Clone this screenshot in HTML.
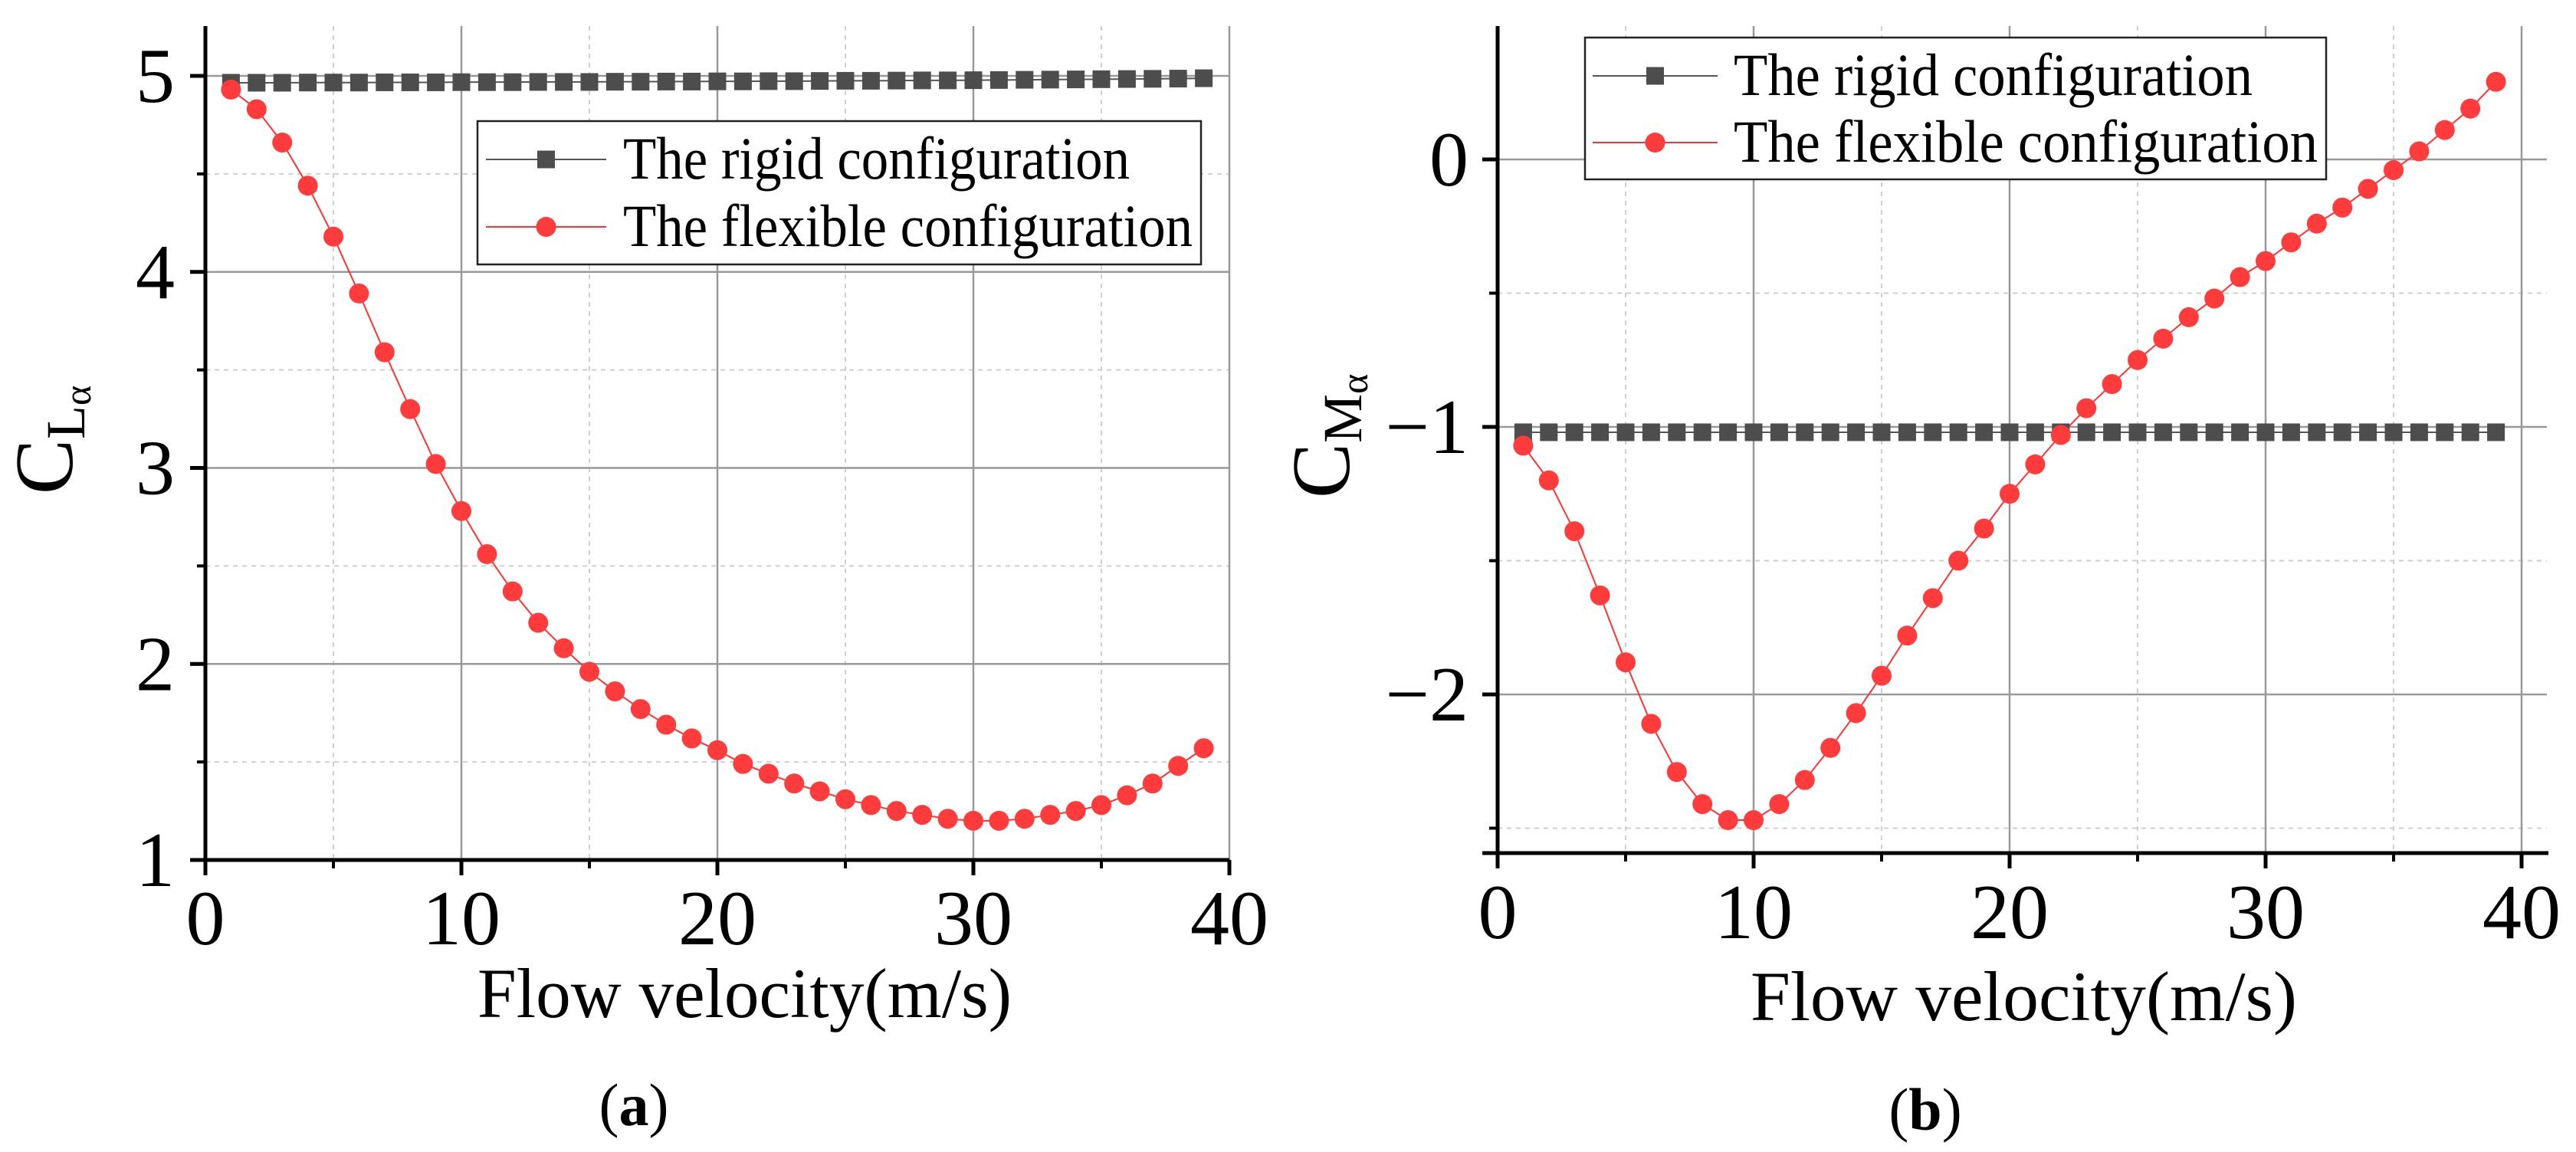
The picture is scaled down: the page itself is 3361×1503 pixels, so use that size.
<!DOCTYPE html>
<html><head><meta charset="utf-8"><style>
html,body{margin:0;padding:0;background:#fff}
svg{display:block}
text{font-family:"Liberation Serif","Times New Roman",serif;fill:#000}
</style></head><body>
<svg id="fig" width="3361" height="1503" viewBox="0 0 3361 1503" xmlns="http://www.w3.org/2000/svg"></svg>
<script>
const velocities = [1,2,3,4,5,6,7,8,9,10,11,12,13,14,15,16,17,18,19,20,21,22,23,24,25,26,27,28,29,30,31,32,33,34,35,36,37,38,39];
const clRigid = [4.965,4.965,4.965,4.966,4.966,4.966,4.967,4.967,4.967,4.968,4.968,4.968,4.969,4.969,4.969,4.970,4.970,4.971,4.971,4.972,4.972,4.973,4.973,4.974,4.975,4.975,4.976,4.977,4.977,4.978,4.979,4.980,4.981,4.982,4.983,4.984,4.985,4.986,4.988];
const clFlexible = [4.93,4.83,4.66,4.44,4.18,3.89,3.59,3.30,3.02,2.78,2.56,2.37,2.21,2.08,1.96,1.86,1.77,1.69,1.62,1.56,1.49,1.44,1.39,1.35,1.31,1.28,1.25,1.23,1.21,1.20,1.20,1.21,1.23,1.25,1.28,1.33,1.39,1.48,1.57];
const cmRigid = [-1.02,-1.02,-1.02,-1.02,-1.02,-1.02,-1.02,-1.02,-1.02,-1.02,-1.02,-1.02,-1.02,-1.02,-1.02,-1.02,-1.02,-1.02,-1.02,-1.02,-1.02,-1.02,-1.02,-1.02,-1.02,-1.02,-1.02,-1.02,-1.02,-1.02,-1.02,-1.02,-1.02,-1.02,-1.02,-1.02,-1.02,-1.02,-1.02];
const cmFlexible = [-1.07,-1.20,-1.39,-1.63,-1.88,-2.11,-2.29,-2.41,-2.47,-2.47,-2.41,-2.32,-2.20,-2.07,-1.93,-1.78,-1.64,-1.50,-1.38,-1.25,-1.14,-1.03,-0.93,-0.84,-0.75,-0.67,-0.59,-0.52,-0.44,-0.38,-0.31,-0.24,-0.18,-0.11,-0.04,0.03,0.11,0.19,0.29];
const xTicks = [0,10,20,30,40];
const xMinor = [5,15,25,35];
const clTicks = [1,2,3,4,5];
const clMinor = [1.5,2.5,3.5,4.5];
const cmTicks = [-2,-1,0];
const cmMinor = [-2.5,-1.5,-0.5];
const legendLabels = ["The rigid configuration","The flexible configuration"];

const NS="http://www.w3.org/2000/svg";
const svg=document.getElementById('fig');
function mk(tag,attrs,parent){const e=document.createElementNS(NS,tag);for(const k in attrs)e.setAttribute(k,attrs[k]);(parent||svg).appendChild(e);return e;}

function panel(P){
  const g=mk('g',{});
  
  
  const X=v=>P.x0+(v-0)*P.xs, Y=v=>P.y0v-(v-P.yref)*P.ys;
  P.yMinor.forEach(v=>{const l=mk('line',{x1:P.left,x2:P.gridRight,y1:Y(v),y2:Y(v),stroke:'#cfcfcf','stroke-width':2,'stroke-dasharray':'6 6'},g);
    });
  xMinor.forEach(v=>{const l=mk('line',{x1:X(v),x2:X(v),y1:P.top,y2:P.bottom,stroke:'#cfcfcf','stroke-width':2,'stroke-dasharray':'6 6'},g);
    });
  P.yTicks.forEach(v=>{const l=mk('line',{x1:P.left,x2:P.gridRight,y1:Y(v),y2:Y(v),stroke:'#999','stroke-width':2.5},g);
    });
  xTicks.forEach(v=>{if(v===0)return;const l=mk('line',{x1:X(v),x2:X(v),y1:P.top,y2:P.bottom,stroke:'#999','stroke-width':2.5},g);
    });
  const rp=velocities.map((v,i)=>X(v)+','+Y(P.rigid[i])).join(' ');
  const fp=velocities.map((v,i)=>X(v)+','+Y(P.flex[i])).join(' ');
  const rl=mk('polyline',{points:rp,fill:'none',stroke:'#555','stroke-width':2},g);
  
  const fl=mk('polyline',{points:fp,fill:'none',stroke:'#ff3333','stroke-width':2},g);
  
  velocities.forEach((v,i)=>{
    const s=mk('rect',{x:X(v)-11.5,y:Y(P.rigid[i])-11.5,width:23,height:23,fill:'#4d4d4d'},g);
    
  });
  velocities.forEach((v,i)=>{
    const c=mk('circle',{cx:X(v),cy:Y(P.flex[i]),r:13,fill:'#ff3b3b'},g);
    
  });
  const ax=mk('line',{x1:P.left-20,x2:P.axisRight,y1:P.bottom,y2:P.bottom,stroke:'#000','stroke-width':5},g);
  
  const ay=mk('line',{x1:P.left,x2:P.left,y1:P.top,y2:P.bottom+20,stroke:'#000','stroke-width':5},g);
  
  xTicks.forEach(v=>{mk('line',{x1:X(v),x2:X(v),y1:P.bottom,y2:P.bottom+20,stroke:'#000','stroke-width':5},g);
    const t=mk('text',{x:X(v),y:P.xLabelY,'text-anchor':'middle','font-size':102},g);t.textContent=v;
    });
  xMinor.forEach(v=>mk('line',{x1:X(v),x2:X(v),y1:P.bottom,y2:P.bottom+11,stroke:'#000','stroke-width':4},g));
  P.yTicks.forEach(v=>{mk('line',{x1:P.left-20,x2:P.left,y1:Y(v),y2:Y(v),stroke:'#000','stroke-width':5},g);
    const t=mk('text',{x:P.yLabelX,y:Y(v)+34,'text-anchor':'end','font-size':102},g);t.textContent=(v<0?'\u2212'+(-v):v);
    });
  P.yMinor.forEach(v=>mk('line',{x1:P.left-11,x2:P.left,y1:Y(v),y2:Y(v),stroke:'#000','stroke-width':4},g));
  const xt=mk('text',{x:P.xtX,y:P.xtY,'font-size':92,textLength:P.xtW,lengthAdjust:'spacingAndGlyphs'},g);
  xt.textContent='Flow velocity(m/s)';
  const yt=mk('text',{transform:`translate(${P.ytX},${P.ytY}) rotate(-90)`,'font-size':108},g);
  
  const t1=mk('tspan',{},yt);t1.textContent='C';
  const t2=mk('tspan',{'font-size':72,dy:16},yt);t2.textContent=P.sub;
  const t3=mk('tspan',{'font-size':50,dy:8},yt);t3.textContent='α';
  const lg=mk('g',{},g);
  mk('rect',{x:P.lg.x,y:P.lg.y,width:P.lg.w,height:P.lg.h,fill:'#fff',stroke:'#222','stroke-width':2.5},lg);
  [0,1].forEach(i=>{
    const ry=P.lg.rows[i];
    const e=mk('g',{},lg);
    mk('line',{x1:P.lg.lx1,x2:P.lg.lx2,y1:ry,y2:ry,stroke:i?'#ff3333':'#555','stroke-width':2},e);
    const mx=(P.lg.lx1+P.lg.lx2)/2;
    if(i)mk('circle',{cx:mx,cy:ry,r:13,fill:'#ff3b3b'},e);else mk('rect',{x:mx-11.5,y:ry-11.5,width:23,height:23,fill:'#4d4d4d'},e);
    const t=mk('text',{x:P.lg.tx,y:ry+25,'font-size':78,textLength:P.lg.tw[i],lengthAdjust:'spacingAndGlyphs'},e);t.textContent=legendLabels[i];
  });
  const cap=mk('text',{x:P.capX,y:P.capY,'text-anchor':'middle','font-size':78},g);
  
  const c1=mk('tspan',{},cap);c1.textContent='(';const c2=mk('tspan',{'font-weight':'bold'},cap);c2.textContent=P.cap;const c3=mk('tspan',{},cap);c3.textContent=')';
}

panel({name:'panel-a',x0:268,xs:33.4,yref:1,y0v:1122,ys:255.75,left:268,top:34,bottom:1122,gridRight:1604,axisRight:1604,
  rigid:clRigid,flex:clFlexible,yTicks:clTicks,yMinor:clMinor,xLabelY:1232,yLabelX:228,
  xtX:623,xtY:1327,xtW:697,ytX:94,ytY:645,sub:'L',
  lg:{x:623,y:158,w:944,h:187,rows:[208,296],lx1:634,lx2:791,tx:813,tw:[661,743]},capX:827,capY:1468,cap:'a'});
panel({name:'panel-b',x0:1954,xs:33.4,yref:0,y0v:208,ys:349,left:1954,top:34,bottom:1113,gridRight:3323,axisRight:3325,
  rigid:cmRigid,flex:cmFlexible,yTicks:cmTicks,yMinor:cmMinor,xLabelY:1224,yLabelX:1916,
  xtX:2284,xtY:1331,xtW:713,ytX:1760,ytY:650,sub:'M',
  lg:{x:2068,y:49,w:967,h:185,rows:[99,186],lx1:2078,lx2:2241,tx:2262,tw:[677,762]},capX:2512,capY:1474,cap:'b'});
</script>
</body></html>
